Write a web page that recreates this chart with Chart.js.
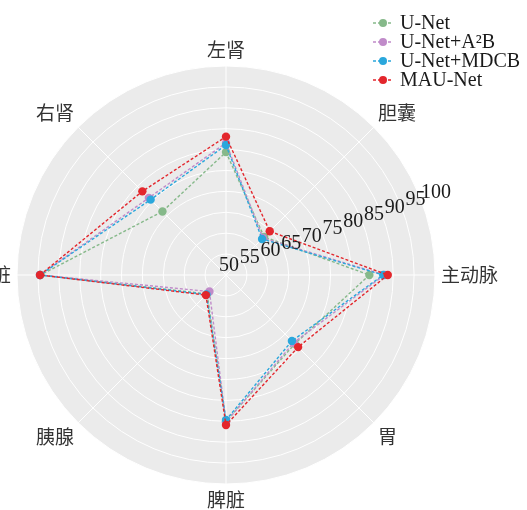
<!DOCTYPE html>
<html>
<head>
<meta charset="utf-8">
<script src="https://cdn.jsdelivr.net/npm/chart.js@4.4.1/dist/chart.umd.min.js"></script>
<style>
  html, body { margin: 0; padding: 0; background: #fff; }
  #wrap { width: 527px; height: 510px; position: relative; overflow: hidden; }
</style>
</head>
<body>
<div id="wrap"><canvas id="radar" width="527" height="510"></canvas></div>
<script>
// Dice scores per organ (clockwise from the top axis)
const organs = ['左肾', '胆囊', '主动脉', '胃', '脾脏', '胰腺', '肝脏', '右肾'];
const unet     = [79.4, 62.9, 84.3, 73.3, 85.0, 56.4, 94.4, 71.5];
const unetA2B  = [81.6, 62.5, 87.9, 72.9, 85.2, 55.6, 94.5, 76.1];
const unetMDCB = [81.1, 62.2, 87.6, 72.3, 84.7, 56.6, 94.5, 75.5];
const mauNet   = [83.1, 64.8, 88.7, 74.4, 85.9, 56.8, 94.5, 78.3];

const seriesNames  = ['U-Net', 'U-Net+A²B', 'U-Net+MDCB', 'MAU-Net'];
const seriesValues = [unet, unetA2B, unetMDCB, mauNet];
const seriesColors = ['#86b98a', '#c08bc9', '#2aa7dc', '#e3262c'];

const radialTicks = [50, 55, 60, 65, 70, 75, 80, 85, 90, 95, 100];

const SERIF = '"Liberation Serif", "Times New Roman", serif';
const CJK = '"Noto Sans CJK SC", sans-serif';

// grey disc behind the grid
const discBackground = {
  id: 'discBackground',
  beforeDraw(chart) {
    const s = chart.scales.r;
    const ctx = chart.ctx;
    ctx.save();
    ctx.fillStyle = '#ebebeb';
    ctx.beginPath();
    ctx.arc(s.xCenter, s.yCenter, s.drawingArea, 0, Math.PI * 2);
    ctx.fill();
    ctx.restore();
  }
};

// organ names round the rim, radial tick values on a shallow diagonal
const radarText = {
  id: 'radarText',
  afterDatasetsDraw(chart) {
    const s = chart.scales.r;
    const ctx = chart.ctx;
    ctx.save();

    ctx.font = '19px ' + CJK;
    ctx.fillStyle = '#333';
    ctx.textAlign = 'center';
    ctx.textBaseline = 'middle';
    const h = 20;
    chart.data.labels.forEach((name, i) => {
      const p = s.getPointPosition(i, s.drawingArea + 6);
      const w = ctx.measureText(name).width;
      const c = Math.cos(p.angle), sn = Math.sin(p.angle);
      const ox = Math.abs(c) < 0.01 ? 0 : Math.sign(c) * w / 2;
      const oy = Math.abs(sn) < 0.01 ? 0 : Math.sign(sn) * h / 2;
      ctx.fillText(name, p.x + ox, p.y + oy);
    });

    ctx.font = '20px ' + SERIF;
    ctx.fillStyle = '#1a1a1a';
    const a = 19.3 * Math.PI / 180;
    radialTicks.forEach(v => {
      const r = s.getDistanceFromCenterForValue(v) * 1.05;
      ctx.fillText(String(v), s.xCenter + 3 + r * Math.cos(a), s.yCenter - 9.5 - r * Math.sin(a));
    });
    ctx.restore();
  },
  afterDraw(chart) {
    const ctx = chart.ctx;
    ctx.save();
    ctx.font = '20px ' + SERIF;
    ctx.textAlign = 'left';
    ctx.textBaseline = 'middle';
    seriesNames.forEach((name, i) => {
      const y = 23 + i * 19;
      const col = seriesColors[i];
      ctx.strokeStyle = col;
      ctx.lineWidth = 1.4;
      ctx.setLineDash([3, 2]);
      ctx.beginPath();
      ctx.moveTo(373, y);
      ctx.lineTo(393, y);
      ctx.stroke();
      ctx.setLineDash([]);
      ctx.fillStyle = col;
      ctx.beginPath();
      ctx.arc(383, y, 4, 0, Math.PI * 2);
      ctx.fill();
      ctx.fillStyle = '#1a1a1a';
      ctx.fillText(name, 400, y + 1);
    });
    ctx.restore();
  }
};

new Chart(document.getElementById('radar'), {
  type: 'radar',
  data: {
    labels: organs,
    datasets: seriesNames.map((name, i) => ({
      label: name,
      data: seriesValues[i],
      borderColor: seriesColors[i],
      backgroundColor: seriesColors[i],
      pointBackgroundColor: seriesColors[i],
      pointBorderWidth: 0,
      pointRadius: 4.2,
      borderWidth: 1.4,
      borderDash: [3, 2],
      fill: false,
      tension: 0,
      order: seriesNames.length - i
    }))
  },
  options: {
    responsive: false,
    devicePixelRatio: 1,
    animation: false,
    layout: { padding: { left: 17, right: 92, top: 66, bottom: 26 } },
    plugins: { legend: { display: false }, tooltip: { enabled: false } },
    scales: {
      r: {
        min: 50,
        max: 100,
        ticks: { stepSize: 5, display: false },
        grid: { circular: true, color: '#ffffff', lineWidth: 1 },
        angleLines: { color: '#ffffff', lineWidth: 1 },
        pointLabels: { display: false }
      }
    }
  },
  plugins: [discBackground, radarText]
});
</script>
</body>
</html>
